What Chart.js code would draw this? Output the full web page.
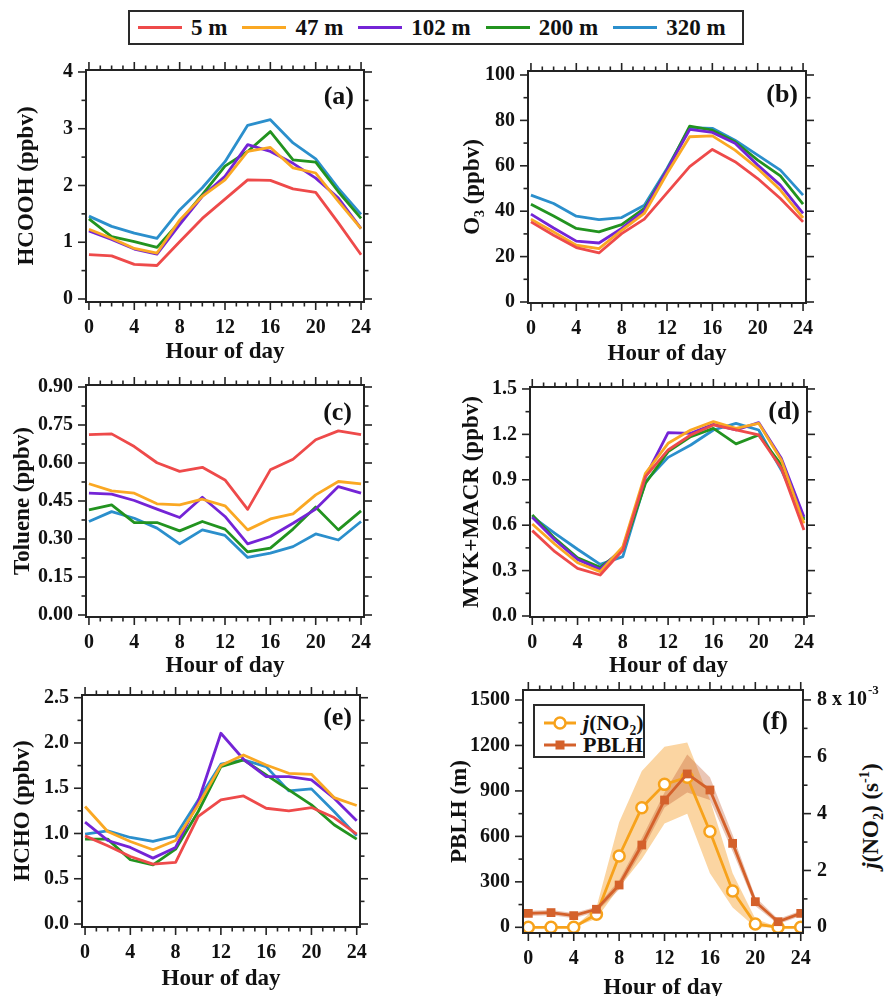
<!DOCTYPE html>
<html>
<head>
<meta charset="utf-8">
<title>Diurnal profiles at different heights</title>
<script src="https://cdn.jsdelivr.net/npm/chart.js@4.4.1/dist/chart.umd.min.js"></script>
<style>
  html, body { margin:0; padding:0; background:#fff; }
  body { position:relative; width:885px; height:996px; overflow:hidden;
         font-family:"Liberation Serif","Times New Roman",serif; color:#111; }
  canvas { position:absolute; }
  #topLegend { position:absolute; left:128px; top:10px; width:616px; height:35px; box-sizing:border-box;
               border:2px solid #2a2a2a; display:flex; align-items:center; padding-left:8px;
               font-weight:bold; font-size:23px; white-space:nowrap; }
  #topLegend .sw { display:inline-block; width:44px; height:3px; margin-right:9px; }
  #topLegend .tx { margin-right:15px; line-height:1; }
  #fLegend { position:absolute; left:533px; top:704px; width:112px; height:54px; box-sizing:border-box;
             border:2px solid #2a2a2a; background:#fff; font-weight:bold; font-size:22px; }
  #fLegend .row { position:absolute; left:8px; height:22px; display:flex; align-items:center; }
  #fLegend svg { margin-right:6px; }
  #fRightTitle { position:absolute; left:870px; top:816px; transform:translate(-50%,-50%) rotate(-90deg);
                 font-weight:bold; font-size:23px; white-space:nowrap; line-height:1; }
  sub, sup { font-size:62%; line-height:0; }
</style>
</head>
<body>
<div id="topLegend"></div>
<div id="fRightTitle"><i>j</i>(NO<sub>2</sub>) (s<sup>-1</sup>)</div>
<div id="fLegend">
  <div class="row" style="top:6px">
    <svg width="34" height="16"><line x1="1" y1="8" x2="33" y2="8" stroke="#F7A21B" stroke-width="3"/><circle cx="17" cy="8" r="5.5" fill="#fff" stroke="#F7A21B" stroke-width="2.5"/></svg>
    <span><i>j</i>(NO<sub>2</sub>)</span>
  </div>
  <div class="row" style="top:28px">
    <svg width="34" height="16"><line x1="1" y1="8" x2="33" y2="8" stroke="#D4612B" stroke-width="3"/><rect x="12.5" y="3.5" width="9" height="9" fill="#D4612B"/></svg>
    <span>PBLH</span>
  </div>
</div>
<script>
// ---------------- DATA ----------------
const hours = [0, 2, 4, 6, 8, 10, 12, 14, 16, 18, 20, 22, 24];
const xTickLabels = [0, 4, 8, 12, 16, 20, 24];
const heightLabels = ['5 m', '47 m', '102 m', '200 m', '320 m'];

// (a) HCOOH (ppbv)
const hcooh5   = [0.78, 0.76, 0.61, 0.59, 1.01, 1.42, 1.76, 2.10, 2.09, 1.94, 1.88, 1.34, 0.78];
const hcooh47  = [1.23, 1.07, 0.89, 0.81, 1.39, 1.81, 2.10, 2.60, 2.67, 2.31, 2.22, 1.72, 1.24];
const hcooh102 = [1.20, 1.05, 0.88, 0.79, 1.31, 1.81, 2.16, 2.72, 2.60, 2.39, 2.13, 1.78, 1.24];
const hcooh200 = [1.41, 1.10, 1.01, 0.91, 1.36, 1.84, 2.34, 2.60, 2.95, 2.45, 2.41, 1.89, 1.42];
const hcooh320 = [1.46, 1.28, 1.16, 1.07, 1.57, 1.96, 2.42, 3.06, 3.16, 2.75, 2.47, 1.95, 1.49];
const hcoohTicks = [0, 1, 2, 3, 4];

// (b) O3 (ppbv)
const o3_5   = [35.3, 29.4, 24.0, 21.6, 30.1, 36.5, 48.1, 59.6, 67.2, 61.8, 54.4, 45.6, 35.3];
const o3_47  = [36.5, 30.9, 25.0, 23.5, 31.6, 39.0, 56.6, 72.8, 73.2, 66.9, 58.8, 49.3, 37.1];
const o3_102 = [38.7, 32.6, 26.8, 26.0, 32.4, 40.4, 58.1, 76.0, 74.7, 69.9, 60.3, 51.5, 39.0];
const o3_200 = [43.1, 37.9, 32.4, 30.9, 34.1, 41.2, 58.1, 77.5, 75.7, 70.6, 62.5, 55.6, 43.1];
const o3_320 = [47.1, 43.4, 37.8, 36.3, 37.2, 42.6, 58.8, 76.8, 76.5, 71.3, 64.7, 58.1, 47.1];
const o3Ticks = [0, 20, 40, 60, 80, 100];

// (c) Toluene (ppbv)
const tol5   = [0.712, 0.715, 0.665, 0.601, 0.567, 0.583, 0.533, 0.417, 0.573, 0.615, 0.692, 0.727, 0.712];
const tol47  = [0.518, 0.490, 0.481, 0.439, 0.435, 0.457, 0.431, 0.336, 0.379, 0.399, 0.474, 0.527, 0.518];
const tol102 = [0.481, 0.477, 0.452, 0.418, 0.385, 0.465, 0.389, 0.281, 0.310, 0.362, 0.418, 0.507, 0.481];
const tol200 = [0.415, 0.435, 0.365, 0.365, 0.332, 0.369, 0.339, 0.249, 0.264, 0.339, 0.426, 0.336, 0.411];
const tol320 = [0.369, 0.408, 0.382, 0.343, 0.281, 0.336, 0.314, 0.227, 0.244, 0.270, 0.320, 0.296, 0.369];
const tolueneTicks = [0.00, 0.15, 0.30, 0.45, 0.60, 0.75, 0.90];

// (d) MVK+MACR (ppbv)
const mvk5   = [0.564, 0.425, 0.315, 0.271, 0.436, 0.921, 1.097, 1.196, 1.262, 1.229, 1.196, 0.976, 0.568];
const mvk47  = [0.608, 0.474, 0.352, 0.293, 0.458, 0.943, 1.141, 1.229, 1.284, 1.240, 1.273, 1.031, 0.612];
const mvk102 = [0.652, 0.502, 0.374, 0.308, 0.447, 0.921, 1.211, 1.207, 1.266, 1.229, 1.278, 1.042, 0.656];
const mvk200 = [0.667, 0.513, 0.385, 0.322, 0.436, 0.877, 1.086, 1.185, 1.240, 1.137, 1.196, 0.998, 0.634];
const mvk320 = [0.656, 0.546, 0.441, 0.341, 0.392, 0.888, 1.048, 1.130, 1.229, 1.273, 1.229, 0.965, 0.645];
const mvkTicks = [0.0, 0.3, 0.6, 0.9, 1.2, 1.5];

// (e) HCHO (ppbv)
const hcho5   = [0.974, 0.864, 0.746, 0.662, 0.680, 1.188, 1.371, 1.415, 1.279, 1.250, 1.287, 1.176, 0.993];
const hcho47  = [1.298, 1.022, 0.912, 0.820, 0.923, 1.316, 1.750, 1.868, 1.757, 1.665, 1.654, 1.397, 1.309];
const hcho102 = [1.125, 0.923, 0.846, 0.728, 0.846, 1.353, 2.107, 1.820, 1.629, 1.629, 1.592, 1.390, 1.140];
const hcho200 = [0.938, 0.938, 0.710, 0.654, 0.827, 1.243, 1.739, 1.813, 1.647, 1.482, 1.316, 1.096, 0.938];
const hcho320 = [0.993, 1.029, 0.956, 0.912, 0.974, 1.371, 1.765, 1.813, 1.739, 1.471, 1.493, 1.243, 0.974];
const hchoTicks = [0.0, 0.5, 1.0, 1.5, 2.0, 2.5];

// (f) PBLH (m) and j(NO2) (1e-3 s-1), with shaded ranges
const pblh      = [92, 97, 77, 119, 279, 543, 840, 1012, 906, 554, 169, 37, 92];
const pblhUpper = [110, 115, 95, 135, 310, 590, 890, 1140, 990, 610, 200, 55, 110];
const pblhLower = [75, 80, 60, 100, 250, 500, 790, 890, 840, 500, 140, 20, 75];
const jno2      = [0, 0, 0, 0.46, 2.51, 4.21, 5.03, 5.28, 3.37, 1.28, 0.12, 0, 0];
const jno2Upper = [0, 0, 0, 0.70, 3.70, 5.50, 6.35, 6.50, 4.50, 1.90, 0.30, 0, 0];
const jno2Lower = [0, 0, 0, 0.30, 1.40, 2.40, 3.65, 4.00, 1.90, 0.70, 0, 0, 0];
const pblhTicks = [0, 300, 600, 900, 1200, 1500];
const jno2Ticks = [0, 2, 4, 6, 8];

// ---------------- STYLE ----------------
const SERIF = '"Liberation Serif", "Times New Roman", serif';
const lineColors = ['#EE4A4A', '#FAA823', '#7424D6', '#22931F', '#2B8FCC'];
const jColor = '#F7A21B', pblhColor = '#D4612B';
const Y_W = 86, X_H = 72, PAD_T = 12, PAD_R = 12, Y2_W = 78;
const TITLE_HALF = 23 * 1.2 / 2;

// top legend
const tl = document.getElementById('topLegend');
heightLabels.forEach((lab, i) => {
  const sw = document.createElement('span'); sw.className = 'sw'; sw.style.background = lineColors[i];
  const tx = document.createElement('span'); tx.className = 'tx'; tx.textContent = lab;
  tl.appendChild(sw); tl.appendChild(tx);
});

const framePlugin = {
  id: 'frame',
  afterDraw(chart, args, o) {
    const ctx = chart.ctx, a = chart.chartArea;
    const xs = chart.scales.x, ys = chart.scales.y, y2 = chart.scales.y2;
    ctx.save();
    ctx.strokeStyle = '#232323';
    ctx.lineWidth = 2;
    ctx.strokeRect(a.left, a.top, a.right - a.left, a.bottom - a.top);
    ctx.lineWidth = 1.6;
    const seg = (x1, y1, x2, yy2) => { ctx.beginPath(); ctx.moveTo(x1, y1); ctx.lineTo(x2, yy2); ctx.stroke(); };
    const marks = (first, last, minor, every, fn) => {
      const n = Math.round((last - first) / minor);
      for (let i = 0; i <= n; i++) fn(first + i * minor, i % every === 0 ? 8 : 4.5);
    };
    marks(o.xr[0], o.xr[1], o.xr[2], o.xr[3], (v, len) => {
      const p = xs.getPixelForValue(v);
      seg(p, a.bottom, p, a.bottom + len); seg(p, a.top, p, a.top - len);
    });
    marks(o.yr[0], o.yr[1], o.yr[2], o.yr[3], (v, len) => {
      const p = ys.getPixelForValue(v);
      seg(a.left, p, a.left - len, p);
      if (!y2) seg(a.right, p, a.right + len, p);
    });
    if (y2 && o.y2r) {
      marks(o.y2r[0], o.y2r[1], o.y2r[2], o.y2r[3], (v, len) => {
        const p = y2.getPixelForValue(v);
        seg(a.right, p, a.right + len, p);
      });
      // superscript exponent for the top right tick
      ctx.font = 'bold 20px ' + SERIF;
      const w = ctx.measureText(o.y2Base).width;
      ctx.font = 'bold 13px ' + SERIF;
      ctx.fillStyle = '#111'; ctx.textAlign = 'left'; ctx.textBaseline = 'middle';
      ctx.fillText(o.y2Exp, a.right + 14 + w + 1, y2.getPixelForValue(o.y2r[1]) - 9);
    }
    ctx.fillStyle = '#111';
    ctx.font = 'bold 26px ' + SERIF;
    ctx.textAlign = 'right'; ctx.textBaseline = 'middle';
    ctx.fillText(o.label, a.right - o.lab[0], a.top + o.lab[1]);
    ctx.restore();
  }
};

function xScale(spec) {
  return {
    type: 'linear', position: 'bottom', min: spec.x[0], max: spec.x[1],
    afterBuildTicks: s => { s.ticks = xTickLabels.map(v => ({ value: v })); },
    afterFit: s => { s.height = X_H; s.paddingLeft = 0; s.paddingRight = 0; s.paddingTop = 0; s.paddingBottom = 0; },
    grid: { display: false, drawTicks: false }, border: { display: false },
    ticks: { padding: 14, color: '#111', font: { family: SERIF, size: 20, weight: 'bold' },
             maxRotation: 0, autoSkip: false, callback: v => String(v) },
    title: { display: true, text: 'Hour of day', color: '#111',
             font: { family: SERIF, size: 23, weight: 'bold' },
             padding: { top: 0, bottom: X_H - spec.xTitleOff - TITLE_HALF } }
  };
}

function yScale(ticksArr, range, dec, title, gap, position, width, fmt) {
  return {
    type: 'linear', position: position, min: range[0], max: range[1],
    afterBuildTicks: s => { s.ticks = ticksArr.map(v => ({ value: v })); },
    afterFit: s => { s.width = width; s.paddingTop = 0; s.paddingBottom = 0; s.paddingLeft = 0; s.paddingRight = 0; },
    grid: { display: false, drawTicks: false }, border: { display: false },
    ticks: { padding: position === 'left' ? 13 : 14, color: '#111', font: { family: SERIF, size: 20, weight: 'bold' },
             autoSkip: false, callback: fmt || (v => Number(v).toFixed(dec)) },
    title: { display: !!title, text: title || '', color: '#111',
             font: { family: SERIF, size: 23, weight: 'bold' },
             padding: { top: Y_W - gap - TITLE_HALF, bottom: 0 } }
  };
}

function makeCanvas(spec, extraRight) {
  const c = document.createElement('canvas');
  const W = Y_W + (spec.box.r - spec.box.l) + extraRight;
  const H = PAD_T + (spec.box.b - spec.box.t) + X_H;
  c.width = W; c.height = H;
  c.style.width = W + 'px'; c.style.height = H + 'px';
  c.style.left = (spec.box.l - Y_W) + 'px';
  c.style.top = (spec.box.t - PAD_T) + 'px';
  document.body.appendChild(c);
  return c;
}

const pts = arr => hours.map((h, i) => ({ x: h, y: arr[i] }));

const panels = [
  { series: [hcooh5, hcooh47, hcooh102, hcooh200, hcooh320], ticks: hcoohTicks, dec: 0, minor: 0.5,
    title: 'HCOOH (ppbv)', box: { l: 86, t: 70, r: 364, b: 302 }, x: [-0.26, 24.26], y: [-0.053, 4.035],
    gap: 59, xTitleOff: 50, label: '(a)', lab: [10, 27] },
  { series: [o3_5, o3_47, o3_102, o3_200, o3_320], ticks: o3Ticks, dec: 0, minor: 10,
    title: 'O₃ (ppbv)', box: { l: 528, t: 71, r: 806, b: 303 }, x: [-0.26, 24.26], y: [-0.44, 101.76],
    gap: 55, xTitleOff: 51, label: '(b)', lab: [8, 24] },
  { series: [tol5, tol47, tol102, tol200, tol320], ticks: tolueneTicks, dec: 2, minor: 0.075,
    title: 'Toluene (ppbv)', box: { l: 86, t: 385, r: 364, b: 617 }, x: [-0.26, 24.26], y: [-0.0079, 0.9079],
    gap: 63, xTitleOff: 49, label: '(c)', lab: [12, 28] },
  { series: [mvk5, mvk47, mvk102, mvk200, mvk320], ticks: mvkTicks, dec: 1, minor: 0.15,
    title: 'MVK+MACR (ppbv)', box: { l: 530, t: 387, r: 807, b: 617 }, x: [-0.2, 24.27], y: [-0.0066, 1.513],
    gap: 58, xTitleOff: 49, label: '(d)', lab: [7, 25] },
  { series: [hcho5, hcho47, hcho102, hcho200, hcho320], ticks: hchoTicks, dec: 1, minor: 0.25,
    title: 'HCHO (ppbv)', box: { l: 82, t: 695, r: 360, b: 927 }, x: [-0.27, 24.29], y: [-0.033, 2.53],
    gap: 59, xTitleOff: 52, label: '(e)', lab: [8, 23] }
];

panels.forEach(spec => {
  const c = makeCanvas(spec, PAD_R);
  const tk = spec.ticks;
  new Chart(c, {
    type: 'line',
    data: {
      datasets: spec.series.map((s, i) => ({
        label: heightLabels[i], data: pts(s), borderColor: lineColors[i], backgroundColor: lineColors[i],
        borderWidth: 2.8, pointRadius: 0, tension: 0, fill: false, borderJoinStyle: 'round'
      }))
    },
    options: {
      responsive: false, maintainAspectRatio: false, animation: false, events: [],
      layout: { padding: { left: 0, top: PAD_T, right: PAD_R, bottom: 0 } },
      scales: {
        x: xScale(spec),
        y: yScale(tk, spec.y, spec.dec, spec.title, spec.gap, 'left', Y_W)
      },
      plugins: {
        legend: { display: false }, tooltip: { enabled: false },
        frame: { xr: [0, 24, 1, 4], yr: [tk[0], tk[tk.length - 1], spec.minor, Math.round((tk[1] - tk[0]) / spec.minor)],
                 label: spec.label, lab: spec.lab }
      }
    },
    plugins: [framePlugin]
  });
});

// panel (f)
const fSpec = { box: { l: 523, t: 690, r: 803, b: 933 }, x: [-0.47, 24.2], y: [-37.6, 1566], y2: [-0.2, 8.35],
                gap: 63, xTitleOff: 55, label: '(f)', lab: [15, 32] };
const cf = makeCanvas(fSpec, Y2_W);
new Chart(cf, {
  type: 'line',
  data: {
    datasets: [
      { label: 'PBLH', yAxisID: 'y', data: pts(pblh), borderColor: pblhColor, backgroundColor: pblhColor,
        borderWidth: 2.8, tension: 0, pointStyle: 'rect', pointRadius: 6.2, pointBorderWidth: 0,
        pointBackgroundColor: pblhColor, fill: false },
      { label: 'j(NO2)', yAxisID: 'y2', data: pts(jno2), borderColor: jColor, backgroundColor: '#fff',
        borderWidth: 2.8, tension: 0, pointStyle: 'circle', pointRadius: 5.5, pointBorderWidth: 2.5,
        pointBackgroundColor: '#fff', pointBorderColor: jColor, fill: false },
      { label: 'PBLH upper', yAxisID: 'y', data: pts(pblhUpper), borderWidth: 0, pointRadius: 0, tension: 0, fill: false },
      { label: 'PBLH lower', yAxisID: 'y', data: pts(pblhLower), borderWidth: 0, pointRadius: 0, tension: 0,
        fill: '-1', backgroundColor: 'rgba(196,98,52,0.36)' },
      { label: 'j upper', yAxisID: 'y2', data: pts(jno2Upper), borderWidth: 0, pointRadius: 0, tension: 0, fill: false },
      { label: 'j lower', yAxisID: 'y2', data: pts(jno2Lower), borderWidth: 0, pointRadius: 0, tension: 0,
        fill: '-1', backgroundColor: 'rgba(248,172,70,0.5)' }
    ]
  },
  options: {
    responsive: false, maintainAspectRatio: false, animation: false, events: [],
    layout: { padding: { left: 0, top: PAD_T, right: 0, bottom: 0 } },
    scales: {
      x: xScale(fSpec),
      y: yScale(pblhTicks, fSpec.y, 0, 'PBLH (m)', fSpec.gap, 'left', Y_W),
      y2: yScale(jno2Ticks, fSpec.y2, 0, '', 0, 'right', Y2_W, v => (v === 8 ? '8 x 10' : String(v)))
    },
    plugins: {
      legend: { display: false }, tooltip: { enabled: false },
      frame: { xr: [0, 24, 1, 4], yr: [0, 1500, 150, 2], y2r: [0, 8, 1, 2], y2Base: '8 x 10', y2Exp: '-3',
               label: fSpec.label, lab: fSpec.lab }
    }
  },
  plugins: [framePlugin]
});
</script>
</body>
</html>
